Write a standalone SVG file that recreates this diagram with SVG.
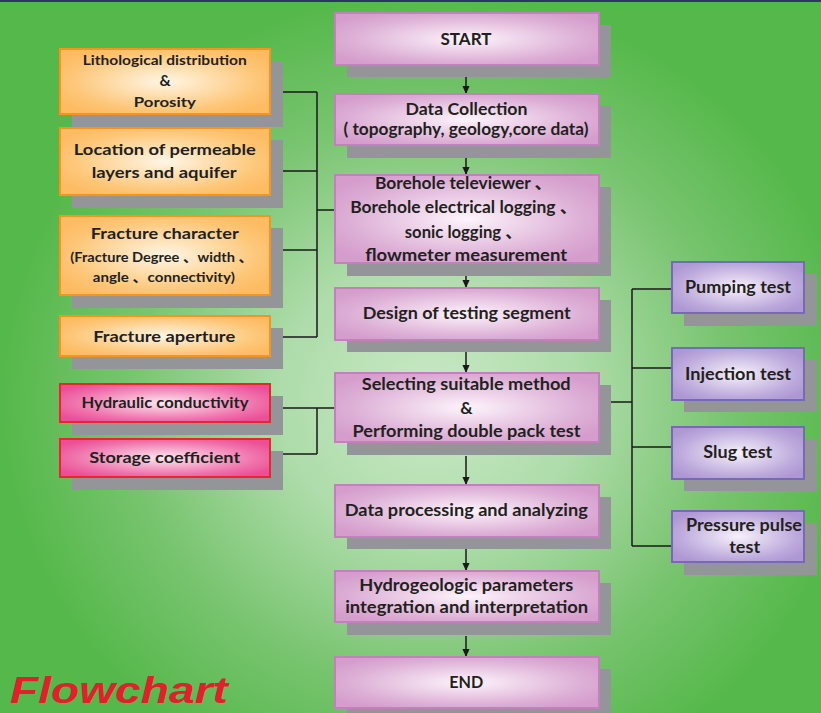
<svg xmlns="http://www.w3.org/2000/svg" width="821" height="713" viewBox="0 0 821 713">
<defs>
<radialGradient id="bg" gradientUnits="userSpaceOnUse" cx="430" cy="400" r="430" gradientTransform="translate(430 400) scale(1 0.95) translate(-430 -400)">
<stop offset="0" stop-color="#c9e9c6"/>
<stop offset="0.35" stop-color="#aedcaa"/>
<stop offset="0.7" stop-color="#78c46f"/>
<stop offset="1" stop-color="#55b84a"/>
</radialGradient>
<radialGradient id="gPink" cx="0.5" cy="0.5" r="0.6">
<stop offset="0" stop-color="#fdf4fb"/>
<stop offset="0.75" stop-color="#dcaed5"/>
<stop offset="1" stop-color="#d59dcc"/>
</radialGradient>
<radialGradient id="gOrange" cx="0.5" cy="0.5" r="0.6">
<stop offset="0" stop-color="#fff6e6"/>
<stop offset="0.75" stop-color="#fdc677"/>
<stop offset="1" stop-color="#fdbb62"/>
</radialGradient>
<radialGradient id="gRed" cx="0.5" cy="0.5" r="0.6">
<stop offset="0" stop-color="#fde8f1"/>
<stop offset="0.75" stop-color="#ef6fa9"/>
<stop offset="1" stop-color="#ec4f97"/>
</radialGradient>
<radialGradient id="gPurple" cx="0.5" cy="0.5" r="0.6">
<stop offset="0" stop-color="#f6f1fa"/>
<stop offset="0.75" stop-color="#bca9dc"/>
<stop offset="1" stop-color="#ae97d2"/>
</radialGradient>
<marker id="arr" markerUnits="userSpaceOnUse" markerWidth="8" markerHeight="9" refX="4" refY="9" orient="auto-start-reverse" viewBox="0 0 8 9">
<path d="M0,0 L8,0 L4,9 Z" fill="#1a1a1a" transform="rotate(-90 4 4.5) translate(0 0)"/>
</marker>
<marker id="ah" markerUnits="userSpaceOnUse" markerWidth="8" markerHeight="9" refX="9" refY="4" orient="auto" viewBox="0 0 9 8">
<path d="M0,0 L9,4 L0,8 Z" fill="#1a1a1a"/>
</marker>
</defs>
<style>
.sh{fill:#939598}
.pk{fill:url(#gPink);stroke:#c47fbd;stroke-width:2}
.or{fill:url(#gOrange);stroke:#f7941d;stroke-width:2}
.rd{fill:url(#gRed);stroke:#e8262c;stroke-width:2}
.pu{fill:url(#gPurple);stroke:#7868b8;stroke-width:2}
text{font-family:Lato,"Liberation Sans","Noto Sans CJK SC",sans-serif;font-weight:bold;fill:#231f20;text-anchor:middle}
.c{font-size:17px}
.l{font-size:15.5px}
.s{font-size:14px}
.r{font-size:16.5px}
.ln{stroke:#1a1a1a;stroke-width:1.5;fill:none}
</style>
<rect x="0" y="0" width="821" height="713" fill="url(#bg)"/>
<rect x="0" y="0" width="821" height="2" fill="#2e3560"/>

<g id="connectors">
<path class="ln" d="M270,92H317M270,171H317M270,250H317M270,337H317M317,92V337M317,210H336"/>
<path class="ln" d="M270,408H336M270,454H317M317,408V454"/>
<path class="ln" d="M598,402H632M632,289V546M632,289H672M632,368H672M632,447H672M632,546H672"/>
<line class="ln" x1="466" y1="73" x2="466" y2="94" marker-end="url(#ah)"/>
<line class="ln" x1="466" y1="145" x2="466" y2="175" marker-end="url(#ah)"/>
<line class="ln" x1="466" y1="263" x2="466" y2="288" marker-end="url(#ah)"/>
<line class="ln" x1="466" y1="340" x2="466" y2="373" marker-end="url(#ah)"/>
<line class="ln" x1="466" y1="456" x2="466" y2="485" marker-end="url(#ah)"/>
<line class="ln" x1="466" y1="537" x2="466" y2="571" marker-end="url(#ah)"/>
<line class="ln" x1="466" y1="636" x2="466" y2="657" marker-end="url(#ah)"/>
</g>

<g id="start">
<rect class="sh" x="347" y="25" width="264" height="52"/>
<rect class="pk" x="335" y="13" width="264" height="52"/>
<text class="c" x="466" y="45" textLength="51" lengthAdjust="spacingAndGlyphs">START</text>
</g>
<g id="data-collection">
<rect class="sh" x="347" y="106" width="264" height="52"/>
<rect class="pk" x="335" y="94" width="264" height="51"/>
<text class="c" x="466.5" y="114.5" textLength="122" lengthAdjust="spacingAndGlyphs">Data Collection</text>
<text class="c" x="466" y="135" textLength="245" lengthAdjust="spacingAndGlyphs">( topography, geology,core data)</text>
</g>
<g id="borehole">
<rect class="sh" x="347" y="187" width="264" height="89"/>
<rect class="pk" x="335" y="175" width="264" height="88"/>
<text class="c" x="463.5" y="188.5" textLength="177" lengthAdjust="spacingAndGlyphs">Borehole televiewer 、</text>
<text class="c" x="463.7" y="212.5" textLength="227" lengthAdjust="spacingAndGlyphs">Borehole electrical logging 、</text>
<text class="c" x="463.3" y="237.5" textLength="117" lengthAdjust="spacingAndGlyphs">sonic logging 、</text>
<text class="c" x="466.2" y="261" textLength="202" lengthAdjust="spacingAndGlyphs">flowmeter measurement</text>
</g>
<g id="design">
<rect class="sh" x="347" y="300" width="264" height="52"/>
<rect class="pk" x="335" y="288" width="264" height="52"/>
<text class="c" x="466.7" y="318.5" textLength="208" lengthAdjust="spacingAndGlyphs">Design of testing segment</text>
</g>
<g id="selecting">
<rect class="sh" x="347" y="385" width="264" height="70"/>
<rect class="pk" x="335" y="373" width="264" height="69"/>
<text class="c" x="466.2" y="389.5" textLength="209" lengthAdjust="spacingAndGlyphs">Selecting suitable method</text>
<text class="c" x="466.3" y="413.5">&amp;</text>
<text class="c" x="466.5" y="436.7" textLength="228" lengthAdjust="spacingAndGlyphs">Performing double pack test</text>
</g>
<g id="processing">
<rect class="sh" x="347" y="497" width="264" height="52"/>
<rect class="pk" x="335" y="485" width="264" height="52"/>
<text class="c" x="466.3" y="516" textLength="243" lengthAdjust="spacingAndGlyphs">Data processing and analyzing</text>
</g>
<g id="hydrogeologic">
<rect class="sh" x="347" y="583" width="264" height="52"/>
<rect class="pk" x="335" y="571" width="264" height="51"/>
<text class="c" x="466.3" y="590.7" textLength="214" lengthAdjust="spacingAndGlyphs">Hydrogeologic parameters</text>
<text class="c" x="466.7" y="613.3" textLength="243" lengthAdjust="spacingAndGlyphs">integration and interpretation</text>
</g>
<g id="end">
<rect class="sh" x="347" y="669" width="264" height="52"/>
<rect class="pk" x="335" y="657" width="264" height="51"/>
<text class="c" x="466.3" y="688" textLength="34" lengthAdjust="spacingAndGlyphs">END</text>
</g>

<g id="lithological">
<rect class="sh" x="72" y="61" width="211" height="66"/>
<rect class="or" x="60" y="49" width="210" height="65"/>
<text class="s" x="164.7" y="65" textLength="164" lengthAdjust="spacingAndGlyphs">Lithological distribution</text>
<text class="l" x="165" y="86">&amp;</text>
<text class="s" x="164.8" y="106.7" textLength="62" lengthAdjust="spacingAndGlyphs">Porosity</text>
</g>
<g id="location">
<rect class="sh" x="72" y="140" width="211" height="68"/>
<rect class="or" x="60" y="128" width="210" height="67"/>
<text class="l" x="164.8" y="155" textLength="182" lengthAdjust="spacingAndGlyphs">Location of permeable</text>
<text class="l" x="164.2" y="177.7" textLength="145" lengthAdjust="spacingAndGlyphs">layers and aquifer</text>
</g>
<g id="fracture-character">
<rect class="sh" x="72" y="228" width="211" height="80"/>
<rect class="or" x="60" y="216" width="210" height="79"/>
<text class="l" x="164.8" y="239.3" textLength="148" lengthAdjust="spacingAndGlyphs">Fracture character</text>
<text class="s" x="161.7" y="261.7" textLength="183" lengthAdjust="spacingAndGlyphs">(Fracture Degree 、width 、</text>
<text class="s" x="163.8" y="281.7" textLength="142" lengthAdjust="spacingAndGlyphs">angle 、connectivity)</text>
</g>
<g id="fracture-aperture">
<rect class="sh" x="72" y="328" width="211" height="41"/>
<rect class="or" x="60" y="316" width="210" height="40"/>
<text class="l" x="164.2" y="341.7" textLength="142" lengthAdjust="spacingAndGlyphs">Fracture aperture</text>
</g>
<g id="hydraulic-conductivity">
<rect class="sh" x="72" y="396" width="211" height="39"/>
<rect class="rd" x="60" y="384" width="210" height="38"/>
<text class="l" x="165" y="407.7" textLength="167" lengthAdjust="spacingAndGlyphs">Hydraulic conductivity</text>
</g>
<g id="storage-coefficient">
<rect class="sh" x="72" y="451" width="211" height="39"/>
<rect class="rd" x="60" y="439" width="210" height="38"/>
<text class="l" x="164.7" y="462.7" textLength="151" lengthAdjust="spacingAndGlyphs">Storage coefficient</text>
</g>

<g id="pumping">
<rect class="sh" x="684" y="274" width="133" height="52"/>
<rect class="pu" x="672" y="262" width="132" height="51"/>
<text class="r" x="738" y="292.7" textLength="106" lengthAdjust="spacingAndGlyphs">Pumping test</text>
</g>
<g id="injection">
<rect class="sh" x="684" y="360" width="133" height="52"/>
<rect class="pu" x="672" y="348" width="132" height="52"/>
<text class="r" x="738" y="380" textLength="106" lengthAdjust="spacingAndGlyphs">Injection test</text>
</g>
<g id="slug">
<rect class="sh" x="684" y="439" width="133" height="52"/>
<rect class="pu" x="672" y="427" width="132" height="52"/>
<text class="r" x="737.8" y="458.3" textLength="69" lengthAdjust="spacingAndGlyphs">Slug test</text>
</g>
<g id="pressure-pulse">
<rect class="sh" x="684" y="523" width="133" height="52"/>
<rect class="pu" x="672" y="511" width="132" height="51"/>
<text class="r" x="744" y="531" textLength="116" lengthAdjust="spacingAndGlyphs">Pressure pulse</text>
<text class="r" x="744.7" y="552.7" textLength="31" lengthAdjust="spacingAndGlyphs">test</text>
</g>

<text x="10" y="703.3" style="font-family:'Liberation Sans',Arial,sans-serif;font-size:37px;font-style:italic;font-weight:bold;fill:#e0202a;text-anchor:start" textLength="218" lengthAdjust="spacingAndGlyphs">Flowchart</text>
</svg>
